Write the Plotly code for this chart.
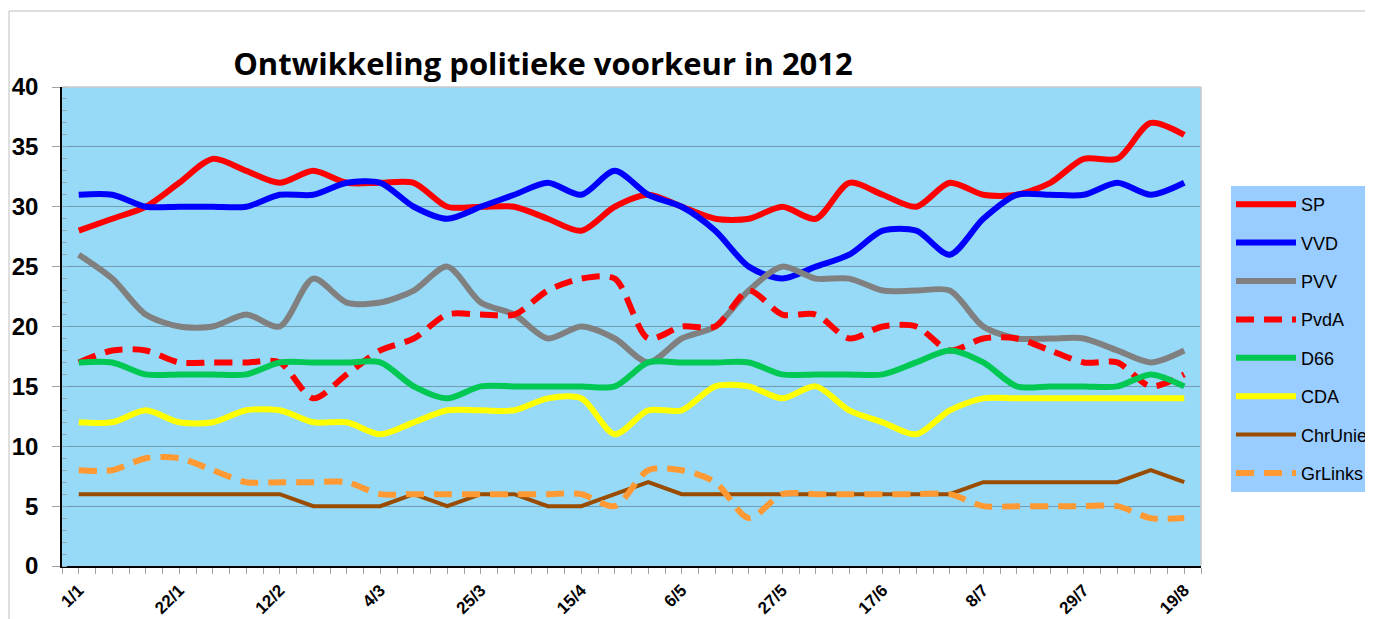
import plotly.graph_objects as go

weeks = list(range(34))
tick_pos = [0, 3, 6, 9, 12, 15, 18, 21, 24, 27, 30, 33]
tick_labels = ["1/1", "22/1", "12/2", "4/3", "25/3", "15/4", "6/5", "27/5", "17/6", "8/7", "29/7", "19/8"]
y_ticks = [0, 5, 10, 15, 20, 25, 30, 35, 40]

sp = [28, 29, 30, 32, 34, 33, 32, 33, 32, 32, 32, 30, 30, 30, 29, 28, 30, 31, 30, 29, 29, 30, 29, 32, 31,
      30, 32, 31, 31, 32, 34, 34, 37, 36]
vvd = [31, 31, 30, 30, 30, 30, 31, 31, 32, 32, 30, 29, 30, 31, 32, 31, 33, 31, 30, 28, 25, 24, 25, 26, 28,
       28, 26, 29, 31, 31, 31, 32, 31, 32]
pvv = [26, 24, 21, 20, 20, 21, 20, 24, 22, 22, 23, 25, 22, 21, 19, 20, 19, 17, 19, 20, 23, 25, 24, 24, 23,
       23, 23, 20, 19, 19, 19, 18, 17, 18]
pvda = [17, 18, 18, 17, 17, 17, 17, 14, 16, 18, 19, 21, 21, 21, 23, 24, 24, 19, 20, 20, 23, 21, 21, 19, 20,
        20, 18, 19, 19, 18, 17, 17, 15, 16]
d66 = [17, 17, 16, 16, 16, 16, 17, 17, 17, 17, 15, 14, 15, 15, 15, 15, 15, 17, 17, 17, 17, 16, 16, 16, 16,
       17, 18, 17, 15, 15, 15, 15, 16, 15]
cda = [12, 12, 13, 12, 12, 13, 13, 12, 12, 11, 12, 13, 13, 13, 14, 14, 11, 13, 13, 15, 15, 14, 15, 13, 12,
       11, 13, 14, 14, 14, 14, 14, 14, 14]
chrunie = [6, 6, 6, 6, 6, 6, 6, 5, 5, 5, 6, 5, 6, 6, 5, 5, 6, 7, 6, 6, 6, 6, 6, 6, 6,
           6, 6, 7, 7, 7, 7, 7, 8, 7]
grlinks = [8, 8, 9, 9, 8, 7, 7, 7, 7, 6, 6, 6, 6, 6, 6, 6, 5, 8, 8, 7, 4, 6, 6, 6, 6,
           6, 6, 5, 5, 5, 5, 5, 4, 4]

series = [
    ("SP", sp, "#FF0000", "solid", 6, "spline"),
    ("VVD", vvd, "#0000FF", "solid", 6, "spline"),
    ("PVV", pvv, "#808080", "solid", 6, "spline"),
    ("PvdA", pvda, "#FF0000", "18px,10px", 6, "spline"),
    ("D66", d66, "#00C853", "solid", 6, "spline"),
    ("CDA", cda, "#FFFF00", "solid", 6, "spline"),
    ("ChrUnie", chrunie, "#994C00", "solid", 4, "linear"),
    ("GrLinks", grlinks, "#FF9933", "18px,10px", 6, "spline"),
]

fig = go.Figure()
for name, vals, color, dash, width, shape in series:
    line = dict(color=color, width=width, dash=dash, shape=shape)
    if shape == "spline":
        line["smoothing"] = 0.8
    fig.add_trace(go.Scatter(x=weeks, y=vals, mode="lines", name=name, line=line,
                             legendgroup=name))

# the page body adds an 8px margin, so the figure is laid out 8px smaller
OFF = 8
W, H = 1373 - OFF, 619 - OFF
L, R, T, B = 62 - OFF, 1201 - OFF, 87 - OFF, 566 - OFF
pw, ph = R - L, B - T

def px(x):
    return (x - OFF - L) / pw

def py(y):
    return (B - (y - OFF)) / ph

fig.update_layout(
    width=W, height=H,
    margin=dict(l=L, r=W - R, t=T, b=H - B, pad=0, autoexpand=False),
    paper_bgcolor="white",
    plot_bgcolor="#97DAF7",
    title=dict(text="<b>Ontwikkeling politieke voorkeur in 2012</b>",
               font=dict(family="Open Sans", size=31, color="black"),
               x=(543 - OFF) / W, xanchor="center", xref="container",
               y=1 - (64 - OFF) / H, yanchor="middle", yref="container"),
    showlegend=True,
    legend=dict(x=px(1231), y=py(186), xanchor="left", yanchor="top",
                bgcolor="#99CCFF", borderwidth=0,
                font=dict(family="Liberation Sans", size=18, color="black"),
                itemwidth=60, tracegroupgap=12, traceorder="grouped"),
    xaxis=dict(range=[-0.5, 33.5], tickmode="array", tickvals=tick_pos,
               ticktext=[f"<b>{t}</b>" for t in tick_labels],
               tickangle=-45, showgrid=False, zeroline=False, automargin=False,
               showline=True, linecolor="black", linewidth=1.5,
               ticks="outside", ticklen=6, tickcolor="#A0A0A0",
               tickfont=dict(family="Liberation Sans", size=17, color="black"),
               minor=dict(dtick=0.5, tick0=0, ticks="outside", ticklen=6, tickcolor="#A0A0A0",
                          showgrid=False)),
    yaxis=dict(range=[0, 40], tickmode="array", tickvals=y_ticks,
               ticktext=[f"<b>{v}</b>" for v in y_ticks],
               showgrid=True, gridcolor="#6E9DB3", gridwidth=1, automargin=False,
               zeroline=False, showline=True, linecolor="black", linewidth=1.5,
               ticks="outside", ticklen=8, tickcolor="#A0A0A0",
               ticklabelstandoff=9,
               tickfont=dict(family="Liberation Sans", size=24, color="black"),
               minor=dict(dtick=1, tick0=0, ticks="inside", ticklen=5, tickcolor="#8FA8B5",
                          showgrid=False)),
)

# plot area top/right border and outer chart frame
fig.add_shape(type="line", xref="paper", yref="paper", x0=0, x1=1, y0=1, y1=1,
              line=dict(color="#C8C8C8", width=1.5))
fig.add_shape(type="line", xref="paper", yref="paper", x0=1, x1=1, y0=0, y1=1,
              line=dict(color="#C8C8C8", width=1.5))
fig.add_shape(type="line", xref="paper", yref="paper", x0=px(9), x1=px(1400), y0=py(11), y1=py(11),
              line=dict(color="#BFBFBF", width=1))
fig.add_shape(type="line", xref="paper", yref="paper", x0=px(9), x1=px(9), y0=py(11), y1=py(640),
              line=dict(color="#BFBFBF", width=1))

fig.write_html("out.html")
